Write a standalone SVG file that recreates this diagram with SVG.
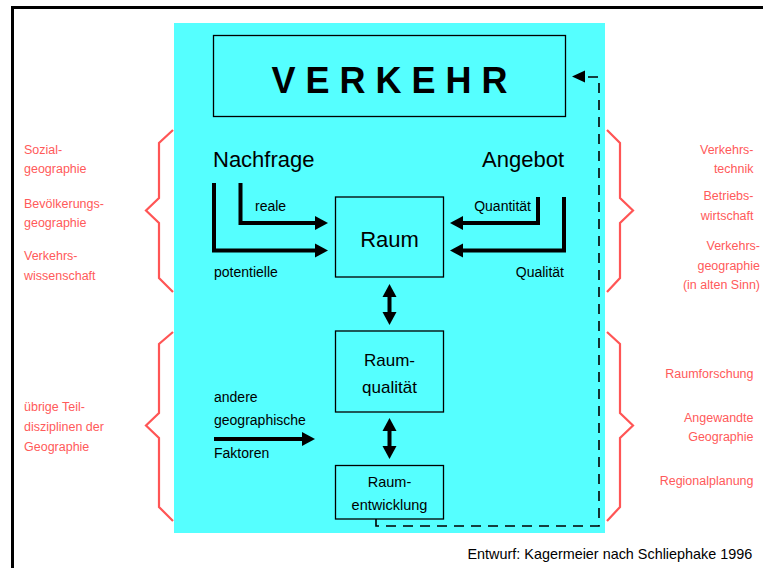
<svg xmlns="http://www.w3.org/2000/svg" width="763" height="568" viewBox="0 0 763 568">
<defs>
<style>
text{font-family:"Liberation Sans",Arial,sans-serif;fill:#000}
.red{fill:#ff5a5a;font-size:12.5px}
.brace{fill:none;stroke:#ff5555;stroke-width:2.2;stroke-linejoin:miter}
.box{fill:none;stroke:#000;stroke-width:1.3}
.thick{fill:none;stroke:#000;stroke-width:4;stroke-linejoin:miter}
.mid{text-anchor:middle}
.end{text-anchor:end}
</style>
<marker id="ah" markerUnits="userSpaceOnUse" markerWidth="14" markerHeight="16" viewBox="0 -8 14 16" refX="0" refY="0" orient="auto-start-reverse">
<path d="M0,-7 L13,0 L0,7 z" fill="#000"/>
</marker>
</defs>
<rect x="0" y="0" width="763" height="568" fill="#fff"/>
<path d="M12.5 568 V7.5 H763" fill="none" stroke="#000" stroke-width="3"/>
<rect id="panel" x="174" y="23" width="431" height="510" fill="#55ffff"/>

<g id="braces">
<path class="brace" d="M173 130 L159 143 V198 L146 210.5 L159 223 V278 L173 292"/>
<path class="brace" d="M173 332 L159 344 V413 L146 425.5 L159 438 V507 L173 521"/>
<path class="brace" d="M607 130 L620 143 V198 L633 210.5 L620 223 V278 L607 292"/>
<path class="brace" d="M607 332 L620 344 V413 L633 425.5 L620 438 V507 L607 521"/>
</g>

<g id="left-labels">
<text class="red" x="24" y="153.5">Sozial-</text>
<text class="red" x="24" y="172.5">geographie</text>
<text class="red" x="24" y="207.5">Bevölkerungs-</text>
<text class="red" x="24" y="226.5">geographie</text>
<text class="red" x="24" y="260">Verkehrs-</text>
<text class="red" x="24" y="279.5">wissenschaft</text>
<text class="red" x="24" y="410.5">übrige Teil-</text>
<text class="red" x="24" y="431">disziplinen der</text>
<text class="red" x="24" y="451">Geographie</text>
</g>

<g id="right-labels">
<text class="red end" x="753.5" y="153.5">Verkehrs-</text>
<text class="red end" x="753.5" y="172.5">technik</text>
<text class="red end" x="753.5" y="200">Betriebs-</text>
<text class="red end" x="753.5" y="219.5">wirtschaft</text>
<text class="red end" x="760" y="250">Verkehrs-</text>
<text class="red end" x="760" y="269.5">geographie</text>
<text class="red end" x="760" y="288.5">(in alten Sinn)</text>
<text class="red end" x="753.5" y="377.5">Raumforschung</text>
<text class="red end" x="753.5" y="421.5">Angewandte</text>
<text class="red end" x="753.5" y="440.5">Geographie</text>
<text class="red end" x="753.5" y="484.5">Regionalplanung</text>
</g>

<g id="verkehr">
<rect class="box" x="213.5" y="35.5" width="352" height="81"/>
<text class="mid" x="389.5" y="93" font-size="36" font-weight="bold">V E R K E H R</text>
</g>

<g id="nachfrage">
<text x="213" y="167" font-size="22">Nachfrage</text>
<text x="255" y="211" font-size="14">reale</text>
<text x="214" y="277" font-size="14">potentielle</text>
</g>

<g id="angebot">
<text class="end" x="564" y="167" font-size="22">Angebot</text>
<text class="end" x="531" y="211" font-size="14">Quantität</text>
<text class="end" x="564" y="277" font-size="14">Qualität</text>
</g>

<g id="raum">
<rect class="box" x="335.5" y="197" width="108" height="80"/>
<text class="mid" x="389.5" y="247" font-size="22">Raum</text>
</g>

<g id="raumqualitaet">
<rect class="box" x="335.5" y="331" width="108" height="81"/>
<text class="mid" x="389.5" y="366" font-size="17">Raum-</text>
<text class="mid" x="389.5" y="392.5" font-size="17">qualität</text>
</g>

<g id="raumentwicklung">
<rect class="box" x="335.5" y="465.5" width="108" height="53.5"/>
<text class="mid" x="389.5" y="487" font-size="14.5">Raum-</text>
<text class="mid" x="389.5" y="510" font-size="14.5">entwicklung</text>
</g>

<g id="faktoren">
<text x="214" y="402" font-size="14">andere</text>
<text x="214" y="425" font-size="14">geographische</text>
<text x="214" y="458" font-size="14">Faktoren</text>
</g>

<g id="connectors">
<path class="thick" d="M214 183 V250.5 H315" marker-end="url(#ah)"/>
<path class="thick" d="M240.5 183 V223 H315" marker-end="url(#ah)"/>
<path class="thick" d="M538 197 V223 H463" marker-end="url(#ah)"/>
<path class="thick" d="M564 197 V250.5 H463" marker-end="url(#ah)"/>
<path class="thick" d="M214 439 H302" marker-end="url(#ah)"/>
<path class="thick" d="M389.5 297 V312" marker-start="url(#ah)" marker-end="url(#ah)"/>
<path class="thick" d="M389.5 431 V446" marker-start="url(#ah)" marker-end="url(#ah)"/>
<path d="M376 519 V526 H599 V77 H586" fill="none" stroke="#000" stroke-width="1.6" stroke-dasharray="10,7"/>
<polygon points="572,76.5 585,70.5 585,82.5" fill="#000"/>
</g>

<text x="467.5" y="559" font-size="14.4" fill="#111">Entwurf: Kagermeier nach Schliephake 1996</text>
</svg>
